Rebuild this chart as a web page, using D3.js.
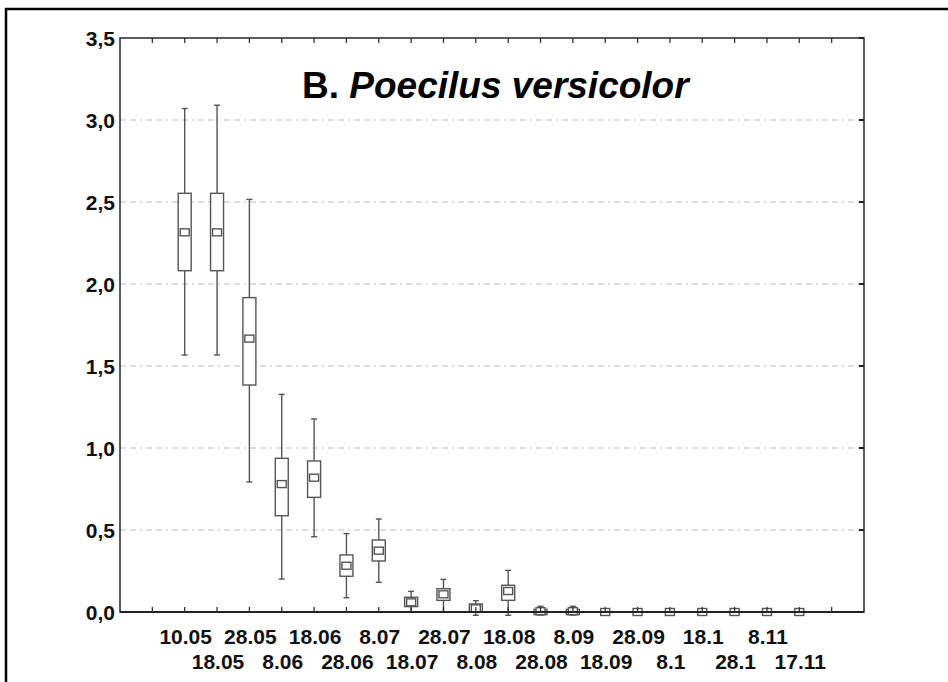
<!DOCTYPE html>
<html lang="en">
    <head>
        <meta charset="utf-8">
        <style>
            body { margin: 0; background: #fff; }
            svg { display: block; font-family: "Liberation Sans", Arial, sans-serif; }
            .grid { stroke: #bbb; stroke-width: 1; stroke-dasharray: 6,4,6,4,2,4; }
            .box { fill: #fff; stroke: #555; stroke-width: 1.4; }
            .whisker { stroke: #555; stroke-width: 1.4; }
            .lbl { font-weight: bold; font-size: 21px; fill: #111; }
        </style>
        <script src="https://d3js.org/d3.v7.min.js"></script>
    </head>
    <body>
        <svg width="948" height="682"></svg>
        <script>
            // sampling dates
            var dates = ["10.05", "18.05", "28.05", "8.06", "18.06", "28.06", "8.07", "18.07",
                         "28.07", "8.08", "18.08", "28.08", "8.09", "18.09", "28.09", "8.1",
                         "18.1", "28.1", "8.11", "17.11"];
            var maxVals = [3.07, 3.09, 2.516, 1.327, 1.177, 0.478, 0.567, 0.126, 0.199, 0.069,
                           0.254, 0.035, 0.035, 0, 0, 0, 0, 0, 0, 0];
            var q3Vals = [2.553, 2.553, 1.917, 0.937, 0.921, 0.348, 0.439, 0.09, 0.142, 0.049,
                          0.163, 0.016, 0.016, 0, 0, 0, 0, 0, 0, 0];
            var medVals = [2.315, 2.315, 1.667, 0.78, 0.819, 0.282, 0.374, 0.059, 0.108, 0.022,
                           0.128, 0.005, 0.005, 0, 0, 0, 0, 0, 0, 0];
            var q1Vals = [2.081, 2.081, 1.384, 0.587, 0.699, 0.218, 0.311, 0.033, 0.071, 0,
                          0.071, -0.016, -0.016, 0, 0, 0, 0, 0, 0, 0];
            var minVals = [1.567, 1.567, 0.793, 0.201, 0.459, 0.087, 0.181, 0, 0, -0.02,
                           -0.02, -0.018, -0.018, 0, 0, 0, 0, 0, 0, 0];
            var yTicks = [0, 0.5, 1, 1.5, 2, 2.5, 3, 3.5];

            var svg = d3.select("svg");
            var plotL = 120, plotR = 864, plotT = 38, plotB = 612;

            var x = d3.scaleLinear().domain([0, dates.length + 3]).range([plotL, plotR]);
            var y = d3.scaleLinear().domain([0, 3.5]).range([plotB, plotT]);
            var fmt = function(d) { return d3.format(".1f")(d).replace(".", ","); };

            // outer border (top and left only)
            svg.append("path")
                .attr("d", "M6,682V9H948")
                .attr("fill", "none")
                .attr("stroke", "#000")
                .attr("stroke-width", 2.5);

            // grid lines
            svg.selectAll(".grid")
                .data(yTicks.filter(function(d) { return d > 0 && d < 3.5; }))
                .enter().append("line")
                .attr("class", "grid")
                .attr("x1", plotL).attr("x2", plotR)
                .attr("y1", function(d) { return y(d); })
                .attr("y2", function(d) { return y(d); });

            // title
            var title = svg.append("text")
                .attr("x", 302).attr("y", 98)
                .attr("font-size", 37)
                .attr("font-weight", "bold")
                .attr("fill", "#000");
            title.append("tspan").text("B. ");
            title.append("tspan").attr("font-style", "italic").text("Poecilus versicolor");

            // boxes
            var g = svg.append("g");
            var boxW = 13, capW = 6;
            dates.forEach(function(d, i) {
                var cx = x(i + 2);
                g.append("line").attr("class", "whisker")
                    .attr("x1", cx).attr("x2", cx)
                    .attr("y1", y(maxVals[i])).attr("y2", y(minVals[i]));
                [maxVals[i], minVals[i]].forEach(function(v) {
                    g.append("line").attr("class", "whisker")
                        .attr("x1", cx - capW / 2).attr("x2", cx + capW / 2)
                        .attr("y1", y(v)).attr("y2", y(v));
                });
                g.append("rect").attr("class", "box")
                    .attr("x", cx - boxW / 2).attr("width", boxW)
                    .attr("y", y(q3Vals[i]))
                    .attr("height", y(q1Vals[i]) - y(q3Vals[i]));
                g.append("rect").attr("class", "box")
                    .attr("x", cx - 4.5).attr("width", 9)
                    .attr("y", y(medVals[i]) - 3.5).attr("height", 7);
            });

            // frame
            svg.append("rect")
                .attr("x", plotL).attr("y", plotT)
                .attr("width", plotR - plotL).attr("height", plotB - plotT)
                .attr("fill", "none")
                .attr("stroke", "#333")
                .attr("stroke-width", 1.6);
            svg.append("line")
                .attr("x1", plotL).attr("x2", plotR)
                .attr("y1", plotB).attr("y2", plotB)
                .attr("stroke", "#222").attr("stroke-width", 2);

            // x ticks (top and bottom, inward)
            var xt = d3.range(1, dates.length + 3);
            svg.selectAll(".xtb").data(xt).enter().append("line")
                .attr("x1", function(d) { return x(d); }).attr("x2", function(d) { return x(d); })
                .attr("y1", plotB).attr("y2", plotB - 5)
                .attr("stroke", "#333").attr("stroke-width", 1.3);
            svg.selectAll(".xtt").data(xt).enter().append("line")
                .attr("x1", function(d) { return x(d); }).attr("x2", function(d) { return x(d); })
                .attr("y1", plotT).attr("y2", plotT + 5)
                .attr("stroke", "#333").attr("stroke-width", 1.3);

            // y ticks on right side
            svg.selectAll(".ytr").data(yTicks).enter().append("line")
                .attr("x1", plotR).attr("x2", plotR - 5)
                .attr("y1", function(d) { return y(d); }).attr("y2", function(d) { return y(d); })
                .attr("stroke", "#222").attr("stroke-width", 2);

            // y labels
            svg.selectAll(".ylbl").data(yTicks).enter().append("text")
                .attr("class", "lbl")
                .attr("x", 115)
                .attr("y", function(d) { return y(d); })
                .attr("dy", "0.36em")
                .attr("text-anchor", "end")
                .text(fmt);

            // x labels, alternating rows
            svg.selectAll(".xlbl").data(dates).enter().append("text")
                .attr("class", "lbl")
                .attr("x", function(d, i) { return x(i + 2) + 1; })
                .attr("y", function(d, i) { return i % 2 === 0 ? 644 : 669; })
                .attr("text-anchor", "middle")
                .text(function(d) { return d; });
        </script>
    </body>
</html>
